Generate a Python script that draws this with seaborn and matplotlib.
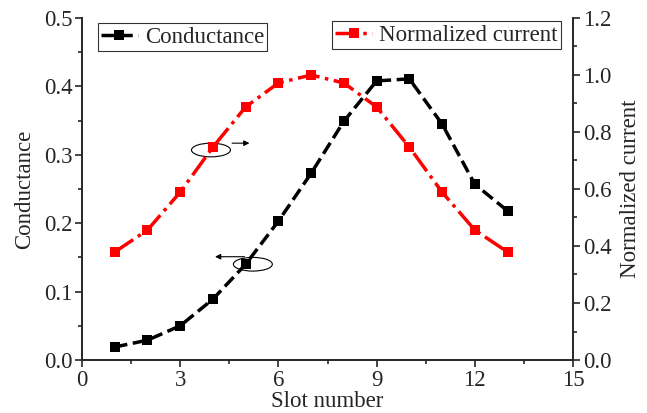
import numpy as np
import pandas as pd
import matplotlib
matplotlib.use("Agg")
import matplotlib.pyplot as plt
from matplotlib.patches import Ellipse
from matplotlib.ticker import MultipleLocator
import seaborn as sns

slots = [1, 2, 3, 4, 5, 6, 7, 8, 9, 10, 11, 12, 13]
conductance = [0.019, 0.029, 0.050, 0.089, 0.140, 0.203, 0.273, 0.349, 0.408, 0.411, 0.345, 0.257, 0.218]
norm_current = [0.379, 0.456, 0.589, 0.747, 0.888, 0.972, 1.000, 0.972, 0.888, 0.747, 0.589, 0.456, 0.379]

sns.set_style("ticks")
plt.rcParams['font.family'] = ['Liberation Serif', 'DejaVu Serif']
plt.rcParams['mathtext.fontset'] = 'stix'

FS = 16.5
fig = plt.figure(figsize=(6.47, 4.13), dpi=100)
ax = fig.add_axes([82/647, 53/413, (573-82)/647, (360-18)/413])
ax2 = ax.twinx()

df1 = pd.DataFrame({"slot": slots, "val": conductance})
df2 = pd.DataFrame({"slot": slots, "val": norm_current})

sns.lineplot(data=df1, x="slot", y="val", ax=ax, color="black", marker="s",
             markersize=7.5, markeredgewidth=0, linewidth=2.5, linestyle="--",
             label="Conductance", legend=False)
sns.lineplot(data=df2, x="slot", y="val", ax=ax2, color="red", marker="s",
             markersize=7.5, markeredgewidth=0, linewidth=2.5, linestyle="-.",
             label="Normalized current", legend=False)

ax.set_xlim(0, 15)
ax.set_ylim(0, 0.5)
ax2.set_ylim(0, 1.2)
ax.xaxis.set_major_locator(MultipleLocator(3))
ax.xaxis.set_minor_locator(MultipleLocator(1.5))
ax.yaxis.set_major_locator(MultipleLocator(0.1))
ax.yaxis.set_minor_locator(MultipleLocator(0.05))
ax2.yaxis.set_major_locator(MultipleLocator(0.2))
ax2.yaxis.set_minor_locator(MultipleLocator(0.1))
ax.yaxis.set_major_formatter(matplotlib.ticker.FormatStrFormatter('%.1f'))
ax2.yaxis.set_major_formatter(matplotlib.ticker.FormatStrFormatter('%.1f'))

for a in (ax, ax2):
    a.spines['top'].set_visible(False)
    for s in a.spines.values():
        s.set_linewidth(1.2)
    a.tick_params(which='major', direction='out', length=5, width=1.2, labelsize=FS, pad=2)
    a.tick_params(which='minor', direction='out', length=3, width=1.2)

ax.set_xlabel("Slot number", fontsize=FS, labelpad=0.5)
ax.set_ylabel("Conductance", fontsize=FS, labelpad=6)
ax2.set_ylabel("Normalized current", fontsize=FS, labelpad=6)

# annotations
e1 = Ellipse((3.94, 0.307), 1.19, 0.02, fill=False, edgecolor='black', linewidth=0.8, zorder=5)
ax.add_patch(e1)
ax.annotate("", xy=(5.2, 0.317), xytext=(4.5, 0.317),
            arrowprops=dict(arrowstyle='-|>', color='black', lw=0.8, mutation_scale=8))
e2 = Ellipse((5.22, 0.140), 1.19, 0.02, fill=False, edgecolor='black', linewidth=0.8, zorder=5)
ax.add_patch(e2)
ax.annotate("", xy=(3.98, 0.151), xytext=(5.05, 0.151),
            arrowprops=dict(arrowstyle='-|>', color='black', lw=0.8, mutation_scale=8))

leg1 = ax.legend(handles=ax.get_lines()[:1], labels=["Conductance"], loc='upper left',
                 bbox_to_anchor=(0.032, 0.985), fontsize=FS, frameon=True, fancybox=False,
                 handlelength=1.6, handletextpad=0.3, borderpad=0.15, borderaxespad=0)
leg1.get_frame().set_edgecolor('black')
leg1.get_frame().set_linewidth(0.8)
leg2 = ax2.legend(handles=ax2.get_lines()[:1], labels=["Normalized current"], loc='upper right',
                  bbox_to_anchor=(0.975, 0.99), fontsize=FS, frameon=True, fancybox=False,
                  handlelength=1.6, handletextpad=0.3, borderpad=0.15, borderaxespad=0)
leg2.get_frame().set_edgecolor('black')
leg2.get_frame().set_linewidth(0.8)

fig.savefig("out.png", dpi=100)
